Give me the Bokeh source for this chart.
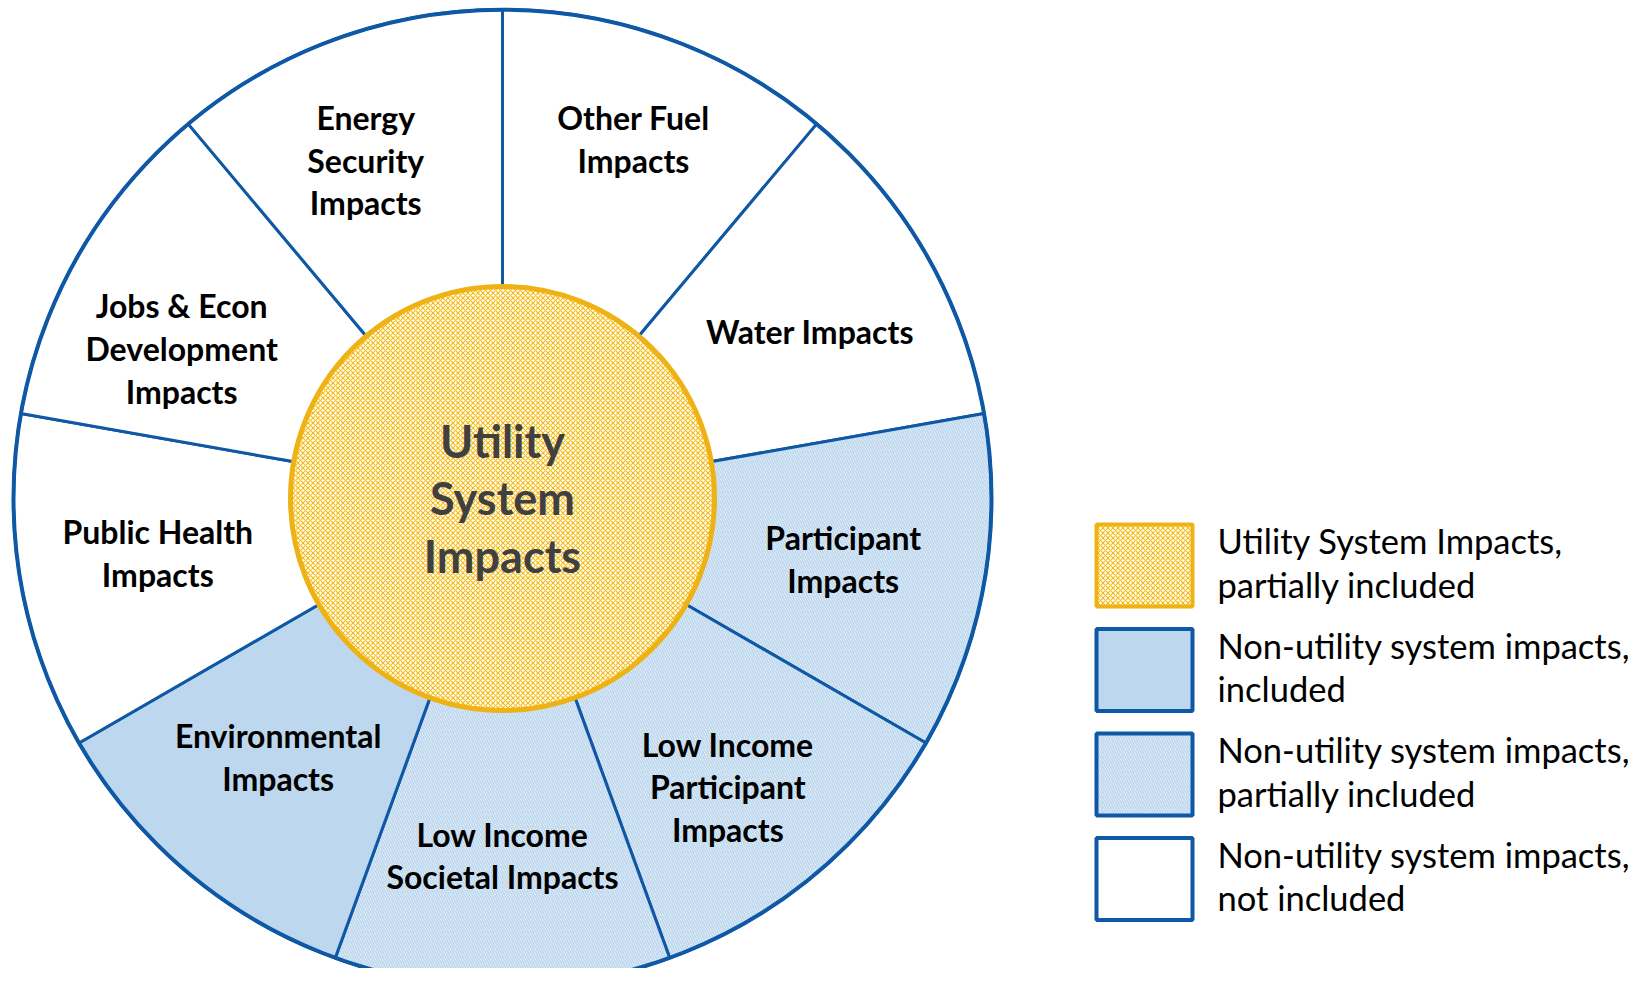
import math
from bokeh.plotting import figure
from bokeh.models import Range1d, ColumnDataSource
from bokeh.core.properties import value
from bokeh.embed import file_html
from bokeh.resources import INLINE

# ---------------- data ----------------
labels = [
    "Other Fuel\nImpacts",
    "Water Impacts",
    "Participant\nImpacts",
    "Low Income\nParticipant\nImpacts",
    "Low Income\nSocietal Impacts",
    "Environmental\nImpacts",
    "Public Health\nImpacts",
    "Jobs & Econ\nDevelopment\nImpacts",
    "Energy\nSecurity\nImpacts",
]
status = ["not", "not", "partial", "partial", "partial", "included", "not", "not", "not"]
shares = [1, 1, 1, 1, 1, 1, 1, 1, 1]

center_label = "Utility\nSystem\nImpacts"

legend_keys = ["utility", "included", "partial", "not"]
legend_labels = [
    "Utility System Impacts,\npartially included",
    "Non-utility system impacts,\nincluded",
    "Non-utility system impacts,\npartially included",
    "Non-utility system impacts,\nnot included",
]

# ---------------- styles / layout ----------------
W, H = 1629, 968
REF_H = 984
BLUE = "#0E58A5"
LIGHT = "#BDD7EE"
YELLOW = "#EFB215"
DOT = "#F6BA12"
HATCH_SCALE, HATCH_W = 5, 1.8

def Y(yref):
    return REF_H - yref

CX, CY = 502, Y(498)
R_OUT = 489
R_IN = 212

label_r = [383, 350, 346, 366, 357, 342, 349, 354, 365]
label_dang = [0, -1.5, 0, -2, 0, -1, -1, 5, 2]

fill_map = {"not": "white", "partial": "white", "included": LIGHT}
hatch_map = {"not": " ", "partial": "left_diagonal_line", "included": " "}

p = figure(width=W, height=H, x_range=Range1d(0, W), y_range=Range1d(REF_H - H, REF_H),
           output_backend="svg", toolbar_location=None, min_border=0)
p.axis.visible = False
p.grid.visible = False
p.outline_line_color = None
p.background_fill_color = "white"
p.border_fill_color = "white"

total = sum(shares)
starts, ends, mids = [], [], []
acc = 0
for s in shares:
    a_end = 90 - 360 * acc / total
    acc += s
    a_start = 90 - 360 * acc / total
    starts.append(math.radians(a_start))
    ends.append(math.radians(a_end))
    mids.append((a_start + a_end) / 2)

src = ColumnDataSource(dict(
    x=[CX] * len(labels), y=[CY] * len(labels),
    start=starts, end=ends,
    fill=[fill_map[s] for s in status],
    hatch=[hatch_map[s] for s in status],
))
p.annular_wedge(x="x", y="y", inner_radius=R_IN - 5, outer_radius=R_OUT,
                start_angle="start", end_angle="end", source=src,
                fill_color="fill", hatch_pattern="hatch", hatch_color=LIGHT,
                hatch_scale=HATCH_SCALE, hatch_weight=HATCH_W,
                line_color=BLUE, line_width=3)
# outer ring
p.circle(x=[CX], y=[CY], radius=R_OUT, fill_color=None, line_color=BLUE, line_width=4)

# centre circle
p.circle(x=[CX], y=[CY], radius=R_IN, fill_color="white", hatch_pattern="diagonal_cross",
         hatch_color=DOT, hatch_scale=5, hatch_weight=1.1,
         line_color=YELLOW, line_width=5)

# wedge labels
lx, ly = [], []
for m, r, d in zip(mids, label_r, label_dang):
    a = math.radians(m + d)
    lx.append(CX + r * math.cos(a))
    ly.append(CY + r * math.sin(a))
p.text(x=lx, y=ly, text=labels, text_font=value("Lato"), text_font_style="bold",
       text_font_size="32px", text_align="center", text_baseline="middle",
       text_line_height=1.1, text_color="black")

p.text(x=[CX], y=[CY], text=[center_label], text_font=value("Lato"), text_font_style="bold",
       text_font_size="45px", text_align="center", text_baseline="middle",
       text_line_height=1.07, text_color="#404040")

# legend
LB_X0, LB_X1 = 1096, 1192
LB_TOP0, LB_H, LB_STEP = 524, 82, 104.5
box_fill = {"utility": "white", "included": LIGHT, "partial": "white", "not": "white"}
box_hatch = {"utility": "diagonal_cross", "included": " ", "partial": "left_diagonal_line", "not": " "}
box_hcol = {"utility": DOT, "included": LIGHT, "partial": LIGHT, "not": LIGHT}
box_hw = {"utility": 1.1, "included": 1, "partial": HATCH_W, "not": 1}
box_line = {"utility": YELLOW, "included": BLUE, "partial": BLUE, "not": BLUE}

lsrc = ColumnDataSource(dict(
    left=[LB_X0] * 4, right=[LB_X1] * 4,
    top=[Y(LB_TOP0 + i * LB_STEP) for i in range(4)],
    bottom=[Y(LB_TOP0 + i * LB_STEP + LB_H) for i in range(4)],
    fill=[box_fill[k] for k in legend_keys],
    hatch=[box_hatch[k] for k in legend_keys],
    hcol=[box_hcol[k] for k in legend_keys],
    hw=[box_hw[k] for k in legend_keys],
    line=[box_line[k] for k in legend_keys],
    tx=[1217] * 4,
    ty=[Y(LB_TOP0 + i * LB_STEP + LB_H / 2 - 3) for i in range(4)],
    text=legend_labels,
))
p.quad(left="left", right="right", top="top", bottom="bottom", source=lsrc,
       fill_color="fill", hatch_pattern="hatch", hatch_color="hcol", hatch_scale=5,
       hatch_weight="hw", line_color="line", line_width=4)
p.text(x="tx", y="ty", text="text", source=lsrc, text_font=value("Lato"),
       text_font_size="34.5px", text_align="left", text_baseline="middle",
       text_line_height=1.06, text_color="black")

open("out.html", "w").write(file_html(p, INLINE))
